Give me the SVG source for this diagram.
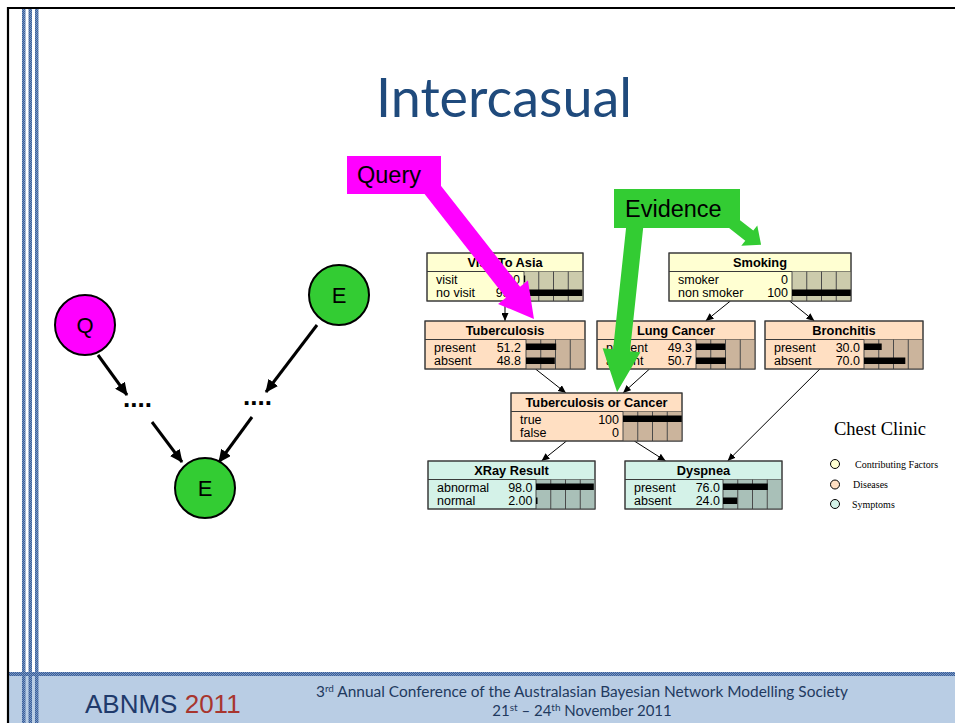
<svg xmlns="http://www.w3.org/2000/svg" width="955" height="723" viewBox="0 0 955 723">
  <defs>
    <pattern id="weave" width="2" height="2" patternUnits="userSpaceOnUse">
      <rect width="2" height="2" fill="#3b5f98"/>
      <rect width="1" height="1" fill="#7f9cc8"/>
      <rect x="1" y="1" width="1" height="1" fill="#6f8fbf"/>
    </pattern>
    <marker id="ah" markerWidth="8" markerHeight="7" refX="8" refY="3.5" orient="auto" markerUnits="userSpaceOnUse">
      <path d="M0,0 L8,3.5 L0,7 z" fill="#000"/>
    </marker>
    <marker id="ahBig" markerWidth="13" markerHeight="12" refX="12" refY="6" orient="auto" markerUnits="userSpaceOnUse">
      <path d="M0,0 L13,6 L0,12 z" fill="#000"/>
    </marker>
  </defs>
  <style>
    .frame { stroke: #000; stroke-width: 2.2; fill: none; }
    .nb { stroke: #3a3a3a; stroke-width: 1; }
    .sep { stroke: #3a3a3a; stroke-width: 1; }
    .cf { fill: #ffffd2; } .cfg { fill: #cccbac; }
    .ds { fill: #ffdfc2; } .dsg { fill: #cbb49c; }
    .sy { fill: #d4f2e8; } .syg { fill: #a9c0b8; }
    .gl { stroke: #4a4a4a; stroke-width: 1; }
    .bar { fill: #000; }
    .tt { font-family: "Liberation Sans", Arial, sans-serif; font-weight: bold; font-size: 12.8px; text-anchor: middle; fill: #000; }
    .rw { font-family: "Liberation Sans", Arial, sans-serif; font-size: 12.5px; fill: #000; }
    .val { text-anchor: end; }
    .link { stroke: #000; stroke-width: 1; fill: none; marker-end: url(#ah); }
    .big { stroke: #000; stroke-width: 3; fill: none; marker-end: url(#ahBig); }
    .circ { stroke: #000; stroke-width: 2; }
    .cl { font-family: "Liberation Sans", Arial, sans-serif; font-size: 22px; text-anchor: middle; fill: #000; }
    .dots { font-family: "Liberation Sans", Arial, sans-serif; font-weight: bold; font-size: 26px; fill: #000; }
    .lg { font-family: "Liberation Serif", "Times New Roman", serif; fill: #000; }
    .callout { font-family: "Liberation Sans", Arial, sans-serif; font-size: 23.5px; fill: #000; }
  </style>

  <!-- slide frame -->
  <rect x="0" y="0" width="955" height="723" fill="#fff"/>
  <rect x="8" y="676" width="947" height="47" fill="#b9cde4"/>
  <rect x="8" y="672" width="947" height="4" fill="url(#weave)"/>
  <rect x="22" y="8" width="3.5" height="715" fill="url(#weave)"/>
  <rect x="28.5" y="8" width="3.5" height="715" fill="url(#weave)"/>
  <rect x="35" y="8" width="3.5" height="715" fill="url(#weave)"/>
  <path class="frame" d="M8,723 L8,8 L955,8"/>

  <!-- title -->
  <text x="376" y="117" font-family="Lato, 'Liberation Sans', sans-serif" font-size="54" fill="#1f4a7c" textLength="256" lengthAdjust="spacingAndGlyphs">Intercasual</text>

  <!-- left sketch: connectors -->
  <g id="sketch-links">
    <line class="big" x1="98" y1="355" x2="127" y2="395"/>
    <line class="big" x1="152" y1="422" x2="182" y2="462"/>
    <line class="big" x1="317" y1="325" x2="266" y2="392"/>
    <line class="big" x1="252" y1="417" x2="219" y2="462"/>
  </g>
  <g id="sketch-q">
    <circle class="circ" cx="85" cy="325" r="30" fill="#ff00ff"/>
    <text class="cl" x="85" y="333">Q</text>
  </g>
  <g id="sketch-e-top">
    <circle class="circ" cx="339" cy="295" r="30" fill="#33cc33"/>
    <text class="cl" x="339" y="303">E</text>
  </g>
  <g id="sketch-e-bottom">
    <circle class="circ" cx="205" cy="488" r="30" fill="#33cc33"/>
    <text class="cl" x="205" y="496">E</text>
  </g>
  <g id="sketch-dots-left"><text class="dots" x="123" y="407">....</text></g>
  <g id="sketch-dots-right"><text class="dots" x="243" y="405">....</text></g>

  <!-- network connectors -->
  <g id="links">
    <line class="link" x1="505" y1="301" x2="505" y2="321"/>
    <line class="link" x1="730.4" y1="301" x2="705.6" y2="321"/>
    <line class="link" x1="789.6" y1="301" x2="814.4" y2="321"/>
    <line class="link" x1="535.5" y1="369" x2="566" y2="393"/>
    <line class="link" x1="649.5" y1="369" x2="623" y2="393"/>
    <line class="link" x1="566.5" y1="441" x2="541.5" y2="461"/>
    <line class="link" x1="634.3" y1="441" x2="665.7" y2="461"/>
    <line class="link" x1="819.9" y1="369" x2="727.6" y2="461"/>
  </g>

  <!-- Visit To Asia -->
  <g id="visit-to-asia">
    <rect class="cf nb" x="427" y="253" width="156" height="48"/>
    <line class="sep" x1="427" y1="271.5" x2="583" y2="271.5"/>
    <rect class="cfg" x="524" y="271.5" width="59" height="29.5"/>
    <path class="gl" d="M524,271.5V301M538.75,271.5V301M553.5,271.5V301M568.25,271.5V301"/>
    <rect class="bar" x="524" y="275.5" width="1.2" height="6.5"/>
    <rect class="bar" x="524" y="289.5" width="58.4" height="6.5"/>
    <rect class="nb" x="427" y="253" width="156" height="48" fill="none"/>
    <text class="tt" x="505" y="266.5">Visit To Asia</text>
    <text class="rw" x="436" y="283.5">visit</text>
    <text class="rw val" x="520" y="283.5">1.00</text>
    <text class="rw" x="436" y="297">no visit</text>
    <text class="rw val" x="520" y="297">99.0</text>
  </g>

  <!-- Smoking -->
  <g id="smoking">
    <rect class="cf nb" x="669" y="253" width="182" height="48"/>
    <line class="sep" x1="669" y1="271.5" x2="851" y2="271.5"/>
    <rect class="cfg" x="792" y="271.5" width="59" height="29.5"/>
    <path class="gl" d="M792,271.5V301M806.75,271.5V301M821.5,271.5V301M836.25,271.5V301"/>
    <rect class="bar" x="792" y="289.5" width="59" height="6.5"/>
    <rect class="nb" x="669" y="253" width="182" height="48" fill="none"/>
    <text class="tt" x="760" y="266.5">Smoking</text>
    <text class="rw" x="678" y="283.5">smoker</text>
    <text class="rw val" x="788" y="283.5">0</text>
    <text class="rw" x="678" y="297">non smoker</text>
    <text class="rw val" x="788" y="297">100</text>
  </g>

  <!-- Tuberculosis -->
  <g id="tuberculosis">
    <rect class="ds nb" x="425" y="321" width="160" height="48"/>
    <line class="sep" x1="425" y1="339.5" x2="585" y2="339.5"/>
    <rect class="dsg" x="526" y="339.5" width="59" height="29.5"/>
    <path class="gl" d="M526,339.5V369M540.75,339.5V369M555.5,339.5V369M570.25,339.5V369"/>
    <rect class="bar" x="526" y="343.5" width="30.2" height="6.5"/>
    <rect class="bar" x="526" y="357.5" width="28.8" height="6.5"/>
    <rect class="nb" x="425" y="321" width="160" height="48" fill="none"/>
    <text class="tt" x="505" y="334.5">Tuberculosis</text>
    <text class="rw" x="434" y="351.5">present</text>
    <text class="rw val" x="521" y="351.5">51.2</text>
    <text class="rw" x="434" y="365">absent</text>
    <text class="rw val" x="521" y="365">48.8</text>
  </g>

  <!-- Lung Cancer -->
  <g id="lung-cancer">
    <rect class="ds nb" x="597" y="321" width="158" height="48"/>
    <line class="sep" x1="597" y1="339.5" x2="755" y2="339.5"/>
    <rect class="dsg" x="696" y="339.5" width="59" height="29.5"/>
    <path class="gl" d="M696,339.5V369M710.75,339.5V369M725.5,339.5V369M740.25,339.5V369"/>
    <rect class="bar" x="696" y="343.5" width="29.1" height="6.5"/>
    <rect class="bar" x="696" y="357.5" width="29.9" height="6.5"/>
    <rect class="nb" x="597" y="321" width="158" height="48" fill="none"/>
    <text class="tt" x="676" y="334.5">Lung Cancer</text>
    <text class="rw" x="606" y="351.5">present</text>
    <text class="rw val" x="692" y="351.5">49.3</text>
    <text class="rw" x="606" y="365">absent</text>
    <text class="rw val" x="692" y="365">50.7</text>
  </g>

  <!-- Bronchitis -->
  <g id="bronchitis">
    <rect class="ds nb" x="765" y="321" width="158" height="48"/>
    <line class="sep" x1="765" y1="339.5" x2="923" y2="339.5"/>
    <rect class="dsg" x="864" y="339.5" width="59" height="29.5"/>
    <path class="gl" d="M864,339.5V369M878.75,339.5V369M893.5,339.5V369M908.25,339.5V369"/>
    <rect class="bar" x="864" y="343.5" width="17.7" height="6.5"/>
    <rect class="bar" x="864" y="357.5" width="41.3" height="6.5"/>
    <rect class="nb" x="765" y="321" width="158" height="48" fill="none"/>
    <text class="tt" x="844" y="334.5">Bronchitis</text>
    <text class="rw" x="774" y="351.5">present</text>
    <text class="rw val" x="860" y="351.5">30.0</text>
    <text class="rw" x="774" y="365">absent</text>
    <text class="rw val" x="860" y="365">70.0</text>
  </g>

  <!-- Tuberculosis or Cancer -->
  <g id="tb-or-cancer">
    <rect class="ds nb" x="511" y="393" width="171" height="48"/>
    <line class="sep" x1="511" y1="411.5" x2="682" y2="411.5"/>
    <rect class="dsg" x="623" y="411.5" width="59" height="29.5"/>
    <path class="gl" d="M623,411.5V441M637.75,411.5V441M652.5,411.5V441M667.25,411.5V441"/>
    <rect class="bar" x="623" y="415.5" width="59" height="6.5"/>
    <rect class="nb" x="511" y="393" width="171" height="48" fill="none"/>
    <text class="tt" x="596.5" y="406.5">Tuberculosis or Cancer</text>
    <text class="rw" x="520" y="423.5">true</text>
    <text class="rw val" x="619" y="423.5">100</text>
    <text class="rw" x="520" y="437">false</text>
    <text class="rw val" x="619" y="437">0</text>
  </g>

  <!-- XRay Result -->
  <g id="xray-result">
    <rect class="sy nb" x="428" y="461" width="167" height="48"/>
    <line class="sep" x1="428" y1="479.5" x2="595" y2="479.5"/>
    <rect class="syg" x="536" y="479.5" width="59" height="29.5"/>
    <path class="gl" d="M536,479.5V509M550.75,479.5V509M565.5,479.5V509M580.25,479.5V509"/>
    <rect class="bar" x="536" y="483.5" width="57.8" height="6.5"/>
    <rect class="bar" x="536" y="497.5" width="1.5" height="6.5"/>
    <rect class="nb" x="428" y="461" width="167" height="48" fill="none"/>
    <text class="tt" x="511.5" y="474.5">XRay Result</text>
    <text class="rw" x="437" y="491.5">abnormal</text>
    <text class="rw val" x="532.5" y="491.5">98.0</text>
    <text class="rw" x="437" y="505">normal</text>
    <text class="rw val" x="532.5" y="505">2.00</text>
  </g>

  <!-- Dyspnea -->
  <g id="dyspnea">
    <rect class="sy nb" x="625" y="461" width="157" height="48"/>
    <line class="sep" x1="625" y1="479.5" x2="782" y2="479.5"/>
    <rect class="syg" x="723" y="479.5" width="59" height="29.5"/>
    <path class="gl" d="M723,479.5V509M737.75,479.5V509M752.5,479.5V509M767.25,479.5V509"/>
    <rect class="bar" x="723" y="483.5" width="44.8" height="6.5"/>
    <rect class="bar" x="723" y="497.5" width="14.2" height="6.5"/>
    <rect class="nb" x="625" y="461" width="157" height="48" fill="none"/>
    <text class="tt" x="703.5" y="474.5">Dyspnea</text>
    <text class="rw" x="634" y="491.5">present</text>
    <text class="rw val" x="720" y="491.5">76.0</text>
    <text class="rw" x="634" y="505">absent</text>
    <text class="rw val" x="720" y="505">24.0</text>
  </g>

  <!-- legend -->
  <g id="legend">
    <text class="lg" x="834" y="434.5" font-size="18.5">Chest Clinic</text>
    <circle cx="835" cy="464" r="4.5" fill="#ffffd2" stroke="#000" stroke-width="1"/>
    <circle cx="835" cy="484.5" r="4.5" fill="#ffdfc2" stroke="#000" stroke-width="1"/>
    <circle cx="835" cy="504" r="4.5" fill="#d4f2e8" stroke="#000" stroke-width="1"/>
    <text class="lg" x="855" y="467.5" font-size="10">Contributing Factors</text>
    <text class="lg" x="853" y="488" font-size="10">Diseases</text>
    <text class="lg" x="852" y="507.5" font-size="10">Symptoms</text>
  </g>

  <!-- Query callout -->
  <g id="query">
    <polygon fill="#ff00ff" transform="translate(425,180) rotate(51.9)" points="0,-9 142.6,-9 142.6,-19 176.6,0 142.6,19 142.6,9 0,9"/>
    <rect x="347" y="156" width="94" height="38" fill="#ff00ff"/>
    <text class="callout" x="357" y="183">Query</text>
  </g>

  <!-- Evidence callout -->
  <g id="evidence">
    <polygon fill="#33cc33" transform="translate(636,215) rotate(96.1)" points="0,-8.5 136,-8.5 136,-19 178,0 136,19 136,8.5 0,8.5"/>
    <polygon fill="#33cc33" transform="translate(728,219) rotate(38)" points="0,-6.5 27,-6.5 27,-13 42,0 27,13 27,6.5 0,6.5"/>
    <rect x="614" y="189" width="126" height="39" fill="#33cc33"/>
    <text class="callout" x="625" y="217">Evidence</text>
  </g>

  <!-- footer -->
  <g id="footer">
    <text x="85" y="713" font-family="'Liberation Sans', Arial, sans-serif" font-size="26" fill="#1f3a6b">ABNMS <tspan fill="#a8352e">2011</tspan></text>
    <text x="316" y="697" font-family="Lato, 'Liberation Sans', sans-serif" font-size="15.5" fill="#1f3a5f" textLength="532" lengthAdjust="spacingAndGlyphs">3<tspan dy="-5" font-size="10">rd</tspan><tspan dy="5"> Annual Conference of the Australasian Bayesian Network Modelling Society</tspan></text>
    <text x="582" y="716" font-family="Lato, 'Liberation Sans', sans-serif" font-size="15" fill="#1f3a5f" text-anchor="middle">21<tspan dy="-5" font-size="10">st</tspan><tspan dy="5"> – 24</tspan><tspan dy="-5" font-size="10">th</tspan><tspan dy="5"> November 2011</tspan></text>
  </g>
</svg>
